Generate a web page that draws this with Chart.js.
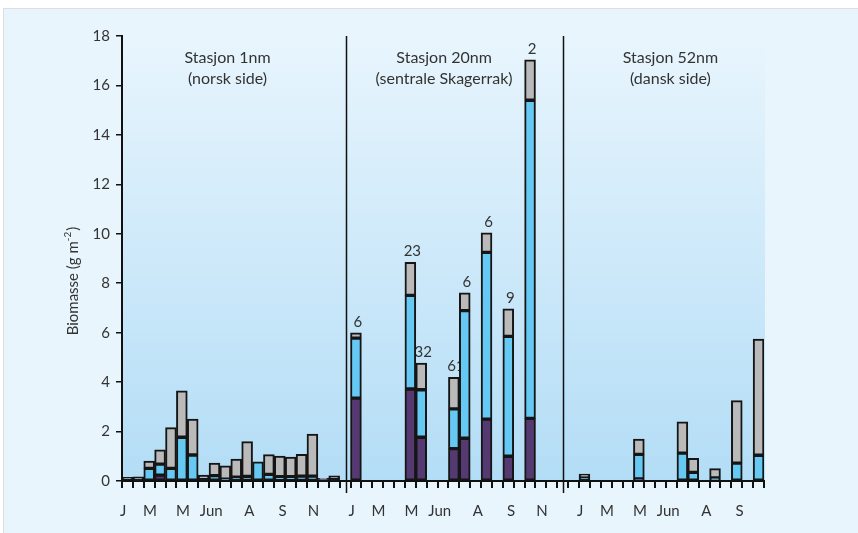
<!DOCTYPE html>
<html lang="no">
<head>
    <meta charset="UTF-8">
    <title>Biomasse</title>
    <script src="https://cdn.jsdelivr.net/npm/chart.js"></script>
    <style>
        body {
            margin: 0;
            padding: 0;
            background: #ffffff;
        }

        .wrap {
            width: 858px;
            height: 533px;
            position: relative;
        }
    </style>
</head>
<body>
    <div class="wrap">
        <canvas id="biomasseChart" width="858" height="533"></canvas>
    </div>

    <script>
        // Stasjon 1nm (norsk side), 20 prøver
        const st1Purple = [null, 0.05, null, 0.24, null, null, null, 0.05, null, null, 0.05, null, null, null, null, null, null, null, 0.06, 0.05];
        const st1Blue   = [null, null, 0.51, 0.44, 0.51, 1.77, 1.05, null, 0.22, 0.07, 0.10, 0.19, 0.78, 0.27, 0.18, 0.18, 0.20, 0.20, null, null];
        const st1Gray   = [0.15, 0.12, 0.30, 0.58, 1.65, 1.88, 1.45, 0.19, 0.50, 0.54, 0.74, 1.40, null, 0.80, 0.83, 0.79, 0.88, 1.70, 0.05, 0.16];

        // Stasjon 20nm (sentrale Skagerrak)
        const st20Purple = [3.35, null, null, null, null, 3.72, 1.77, null, null, 1.31, 1.73, null, 2.50, null, 1.00, null, 2.53, null, null, null];
        const st20Blue   = [2.43, null, null, null, null, 3.79, 1.92, null, null, 1.61, 5.16, null, 6.75, null, 4.85, null, 12.87, null, null, null];
        const st20Gray   = [0.21, null, null, null, null, 1.34, 1.08, null, null, 1.27, 0.72, null, 0.79, null, 1.11, null, 1.64, null, null, null];
        const st20Counts = ["6", "", "", "", "", "23", "32", "", "", "61", "6", "", "6", "", "9", "", "2", "", "", ""];

        // Stasjon 52nm (dansk side)
        const st52Purple = [0.05, null, null, null, null, 0.08, null, null, null, null, null, null, null, null, null, null, null];
        const st52Blue   = [0.08, null, null, null, null, 1.00, null, null, null, 1.13, 0.35, null, 0.12, null, 0.72, null, 1.04];
        const st52Gray   = [0.15, null, null, null, null, 0.62, null, null, null, 1.26, 0.57, null, 0.38, null, 2.53, null, 4.70];

        const monthLabels = ["J", "M", "M", "Jun", "A", "S", "N"];
        const monthPos = [-0.4, 2.07, 5.1, 7.7, 11.2, 14.25, 17.1];
        const panelStart = [0, 21, 42];
        const panelMonths = [7, 7, 6];
        const panelTitles = [["Stasjon 1nm", "(norsk side)"], ["Stasjon 20nm", "(sentrale Skagerrak)"], ["Stasjon 52nm", "(dansk side)"]];
        const panelTitlePos = [9.2, 29.1, 49.9];
        const dividerPos = [20.05, 40.05];
        const yTicks = [0, 2, 4, 6, 8, 10, 12, 14, 16, 18];

        const purple = [...st1Purple, null, ...st20Purple, null, ...st52Purple];
        const blue = [...st1Blue, null, ...st20Blue, null, ...st52Blue];
        const gray = [...st1Gray, null, ...st20Gray, null, ...st52Gray];
        const counts = [...st1Purple.map(() => ""), "", ...st20Counts, "", ...st52Purple.map(() => "")];
        const slots = purple.map((_, i) => i);

        const FONT = "Lato, 'Open Sans', sans-serif";
        const TEXT = "#333333";

        const backgroundPlugin = {
            id: "background",
            beforeDraw(chart) {
                const { ctx, chartArea } = chart;
                ctx.save();
                ctx.fillStyle = "#ffffff";
                ctx.fillRect(0, 0, chart.width, chart.height);
                ctx.fillStyle = "#e8f5fd";
                ctx.fillRect(3, 8, chart.width - 3, chart.height - 8);
                ctx.strokeStyle = "#dedede";
                ctx.lineWidth = 1;
                ctx.strokeRect(3.5, 8.5, chart.width, chart.height);
                const grad = ctx.createLinearGradient(0, chartArea.top, 0, chartArea.bottom);
                grad.addColorStop(0, "#e8f5fd");
                grad.addColorStop(1, "#b3ddf6");
                ctx.fillStyle = grad;
                ctx.fillRect(chartArea.left, chartArea.top, chartArea.right - chartArea.left + 1, chartArea.bottom - chartArea.top);
                ctx.restore();
            },
        };

        const countsPlugin = {
            id: "counts",
            beforeDatasetsDraw(chart) {
                const { ctx, scales } = chart;
                ctx.save();
                ctx.font = "400 15px " + FONT;
                ctx.fillStyle = TEXT;
                ctx.textAlign = "center";
                ctx.textBaseline = "alphabetic";
                counts.forEach((txt, i) => {
                    if (!txt) return;
                    const total = (purple[i] || 0) + (blue[i] || 0) + (gray[i] || 0);
                    const x = scales.x.getPixelForValue(i) + 2;
                    const y = scales.y.getPixelForValue(total) - 6;
                    ctx.fillText(txt, x, y);
                });
                ctx.restore();
            },
        };

        const decorPlugin = {
            id: "decor",
            afterDraw(chart) {
                const { ctx, scales, chartArea } = chart;
                const xs = scales.x;
                ctx.save();

                // skillelinjer mellom stasjonene
                ctx.strokeStyle = "#111111";
                ctx.lineWidth = 1.5;
                dividerPos.forEach((p) => {
                    const x = Math.round(xs.getPixelForValue(p)) + 0.5;
                    ctx.beginPath();
                    ctx.moveTo(x, chartArea.top);
                    ctx.lineTo(x, chartArea.bottom + 12);
                    ctx.stroke();
                });

                ctx.fillStyle = TEXT;
                ctx.textAlign = "center";

                // titler
                ctx.font = "400 16px " + FONT;
                ctx.textBaseline = "alphabetic";
                panelTitles.forEach((lines, k) => {
                    const x = xs.getPixelForValue(panelTitlePos[k]);
                    ctx.fillText(lines[0], x, 63);
                    ctx.fillText(lines[1], x, 84);
                });

                // måneder
                ctx.font = "400 15px " + FONT;
                ctx.textBaseline = "middle";
                panelStart.forEach((start, k) => {
                    for (let m = 0; m < panelMonths[k]; m++) {
                        const x = xs.getPixelForValue(start + monthPos[m]);
                        ctx.fillText(monthLabels[m], x, 511);
                    }
                });

                // y-akse tittel med hevet skrift
                ctx.translate(73, 281);
                ctx.rotate(-Math.PI / 2);
                ctx.textAlign = "left";
                ctx.textBaseline = "middle";
                const big = "400 15px " + FONT;
                const small = "400 10px " + FONT;
                ctx.font = big;
                const w1 = ctx.measureText("Biomasse (g m").width;
                const w3 = ctx.measureText(")").width;
                ctx.font = small;
                const w2 = ctx.measureText("-2").width + 1;
                let x = -(w1 + w2 + w3) / 2;
                ctx.font = big;
                ctx.fillText("Biomasse (g m", x, 0);
                x += w1;
                ctx.font = small;
                ctx.fillText("-2", x, -5);
                x += w2;
                ctx.font = big;
                ctx.fillText(")", x, 0);

                ctx.restore();
            },
        };

        const barStyle = {
            borderColor: "#151515",
            borderWidth: 2,
            borderSkipped: false,
            barPercentage: 1,
            categoryPercentage: 1,
        };

        const config = {
            type: "bar",
            data: {
                labels: slots,
                datasets: [
                    { data: purple, backgroundColor: "#543a70", ...barStyle },
                    { data: blue, backgroundColor: "#66c9f3", ...barStyle },
                    { data: gray, backgroundColor: "#bababa", ...barStyle },
                ],
            },
            options: {
                responsive: false,
                animation: false,
                layout: {
                    padding: { top: 36, right: 94, bottom: 0, left: 0 },
                },
                plugins: {
                    legend: { display: false },
                    tooltip: { enabled: false },
                },
                scales: {
                    x: {
                        stacked: true,
                        afterFit(scale) {
                            scale.height = 52;
                        },
                        grid: {
                            display: true,
                            drawOnChartArea: false,
                            color: "#111111",
                            lineWidth: 2,
                            tickLength: 7,
                            offset: true,
                        },
                        border: { display: true, color: "#111111", width: 2 },
                        ticks: { display: false, autoSkip: false },
                    },
                    y: {
                        stacked: true,
                        min: 0,
                        max: 18,
                        afterFit(scale) {
                            scale.width = 122;
                        },
                        afterBuildTicks(scale) {
                            scale.ticks = yTicks.map((v) => ({ value: v }));
                        },
                        grid: {
                            display: true,
                            drawOnChartArea: false,
                            color: "#111111",
                            lineWidth: 1.5,
                            tickLength: 6,
                        },
                        border: { display: true, color: "#111111", width: 2 },
                        ticks: {
                            padding: 6,
                            color: TEXT,
                            font: { family: FONT, size: 15, weight: 400 },
                        },
                    },
                },
            },
            plugins: [backgroundPlugin, countsPlugin, decorPlugin],
        };

        const ctx = document.getElementById("biomasseChart").getContext("2d");
        const biomasseChart = new Chart(ctx, config);
    </script>
</body>
</html>
